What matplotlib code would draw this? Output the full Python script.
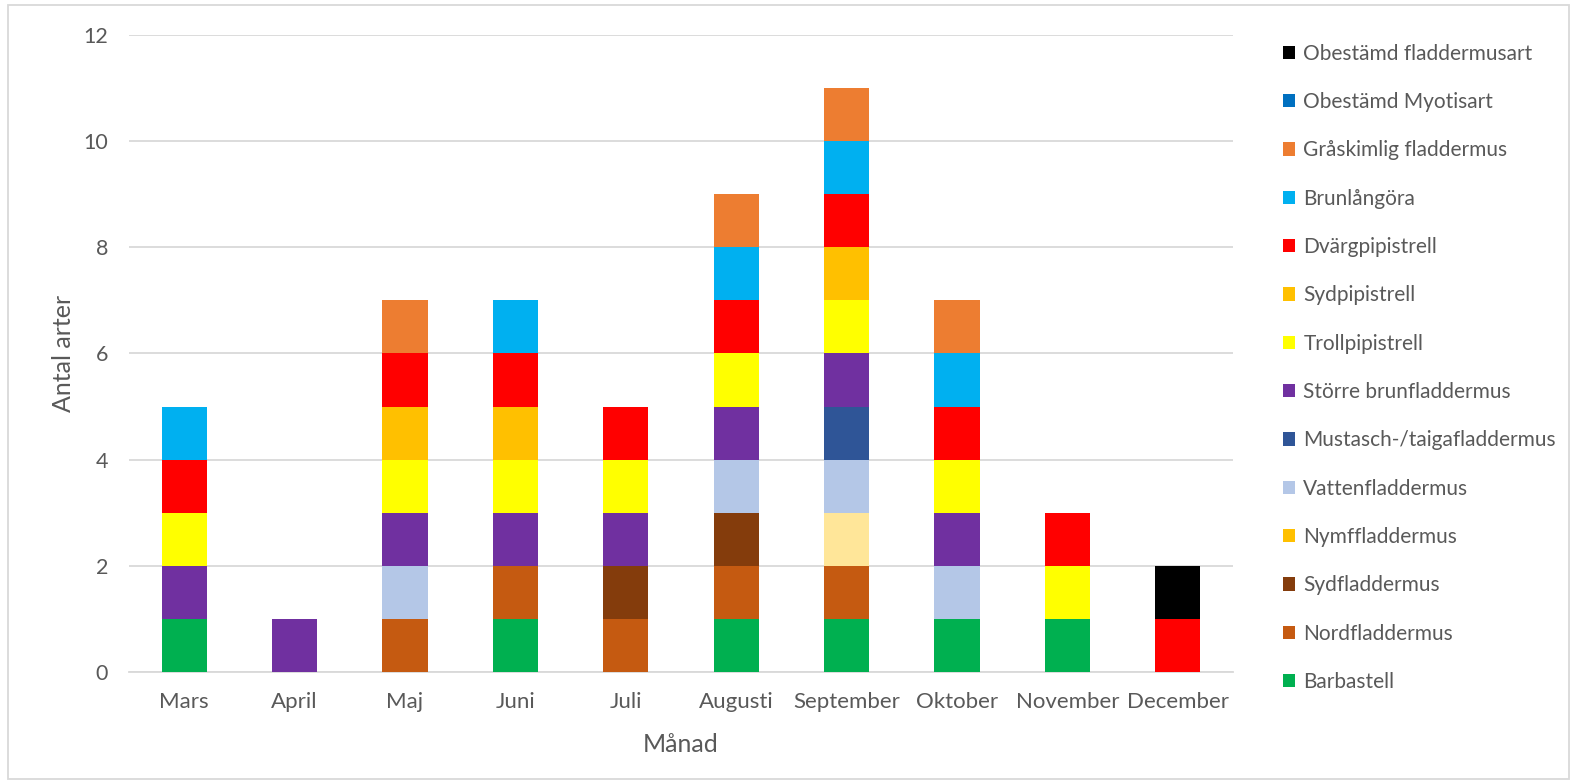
import matplotlib.pyplot as plt
from matplotlib.patches import Patch, Rectangle
import numpy as np

plt.rcParams['font.family'] = ['Lato', 'DejaVu Sans']

months = ['Mars', 'April', 'Maj', 'Juni', 'Juli', 'Augusti', 'September',
          'Oktober', 'November', 'December']

# arter per månad, nedifrån och upp i stapeln
species = ['Barbastell', 'Nordfladdermus', 'Sydfladdermus', 'Nymffladdermus',
           'Vattenfladdermus', 'Mustasch-/taigafladdermus', 'Större brunfladdermus',
           'Trollpipistrell', 'Sydpipistrell', 'Dvärgpipistrell', 'Brunlångöra',
           'Gråskimlig fladdermus', 'Obestämd Myotisart', 'Obestämd fladdermusart']

barbastell   = [1, 0, 0, 1, 0, 1, 1, 1, 1, 0]
nord         = [0, 0, 1, 1, 1, 1, 1, 0, 0, 0]
sydfl        = [0, 0, 0, 0, 1, 1, 0, 0, 0, 0]
nymf         = [0, 0, 0, 0, 0, 0, 1, 0, 0, 0]
vatten       = [0, 0, 1, 0, 0, 1, 1, 1, 0, 0]
mustasch     = [0, 0, 0, 0, 0, 0, 1, 0, 0, 0]
storre_brun  = [1, 1, 1, 1, 1, 1, 1, 1, 0, 0]
troll        = [1, 0, 1, 1, 1, 1, 1, 1, 1, 0]
sydpip       = [0, 0, 1, 1, 0, 0, 1, 0, 0, 0]
dvarg        = [1, 0, 1, 1, 1, 1, 1, 1, 1, 1]
brunlangora  = [1, 0, 0, 1, 0, 1, 1, 1, 0, 0]
graskimlig   = [0, 0, 1, 0, 0, 1, 1, 1, 0, 0]
obest_myotis = [0, 0, 0, 0, 0, 0, 0, 0, 0, 0]
obest_art    = [0, 0, 0, 0, 0, 0, 0, 0, 0, 1]

counts = [barbastell, nord, sydfl, nymf, vatten, mustasch, storre_brun, troll,
          sydpip, dvarg, brunlangora, graskimlig, obest_myotis, obest_art]

bar_colors = ['#00B050', '#C55A11', '#843C0C', '#FFE699', '#B4C7E7', '#2F5597',
              '#7030A0', '#FFFF00', '#FFC000', '#FF0000', '#00B0F0', '#ED7D31',
              '#0070C0', '#000000']
legend_colors = bar_colors.copy()
legend_colors[3] = '#FFC000'

grey = '#595959'

fig = plt.figure(figsize=(15.77, 7.84), dpi=100)
ax = fig.add_axes([0.0818, 0.1429, 0.700, 0.8125])

x = np.arange(len(months))
bottom = np.zeros(len(months))
for name, vals, col in zip(species, counts, bar_colors):
    vals = np.array(vals)
    ax.bar(x, vals, width=0.41, bottom=bottom, color=col, zorder=3)
    bottom += vals

ax.set_xlim(-0.5, len(months) - 0.5)
ax.set_ylim(0, 12)
ax.set_yticks(range(0, 13, 2))
ax.set_xticks(x)
ax.set_xticklabels(months)
ax.tick_params(length=0, colors=grey)
ax.tick_params(axis='x', labelsize=16, pad=14.5)
ax.tick_params(axis='y', labelsize=15.5, pad=15)
ax.grid(axis='y', color='#D9D9D9', linewidth=1.3, zorder=0)
for s in ['top', 'right', 'left']:
    ax.spines[s].set_visible(False)
ax.spines['bottom'].set_color('#D9D9D9')
ax.spines['bottom'].set_linewidth(1.3)

ax.set_ylabel('Antal arter', fontsize=18, color=grey, labelpad=6)
ax.set_xlabel('Månad', fontsize=18, color=grey, labelpad=15)

handles = [Patch(facecolor=c) for c in legend_colors[::-1]]
fig.legend(handles, species[::-1], loc='upper left', bbox_to_anchor=(0.808, 0.955),
           frameon=False, fontsize=15, labelcolor=grey, handlelength=0.62,
           handleheight=0.62, handletextpad=0.38, labelspacing=1.36,
           borderaxespad=0)

# ram runt diagrammet
fig.patches.append(Rectangle((0.005, 0.006), 0.990, 0.988, transform=fig.transFigure,
                             fill=False, edgecolor='#D9D9D9', linewidth=1.3))

fig.savefig('out.png', dpi=100)
